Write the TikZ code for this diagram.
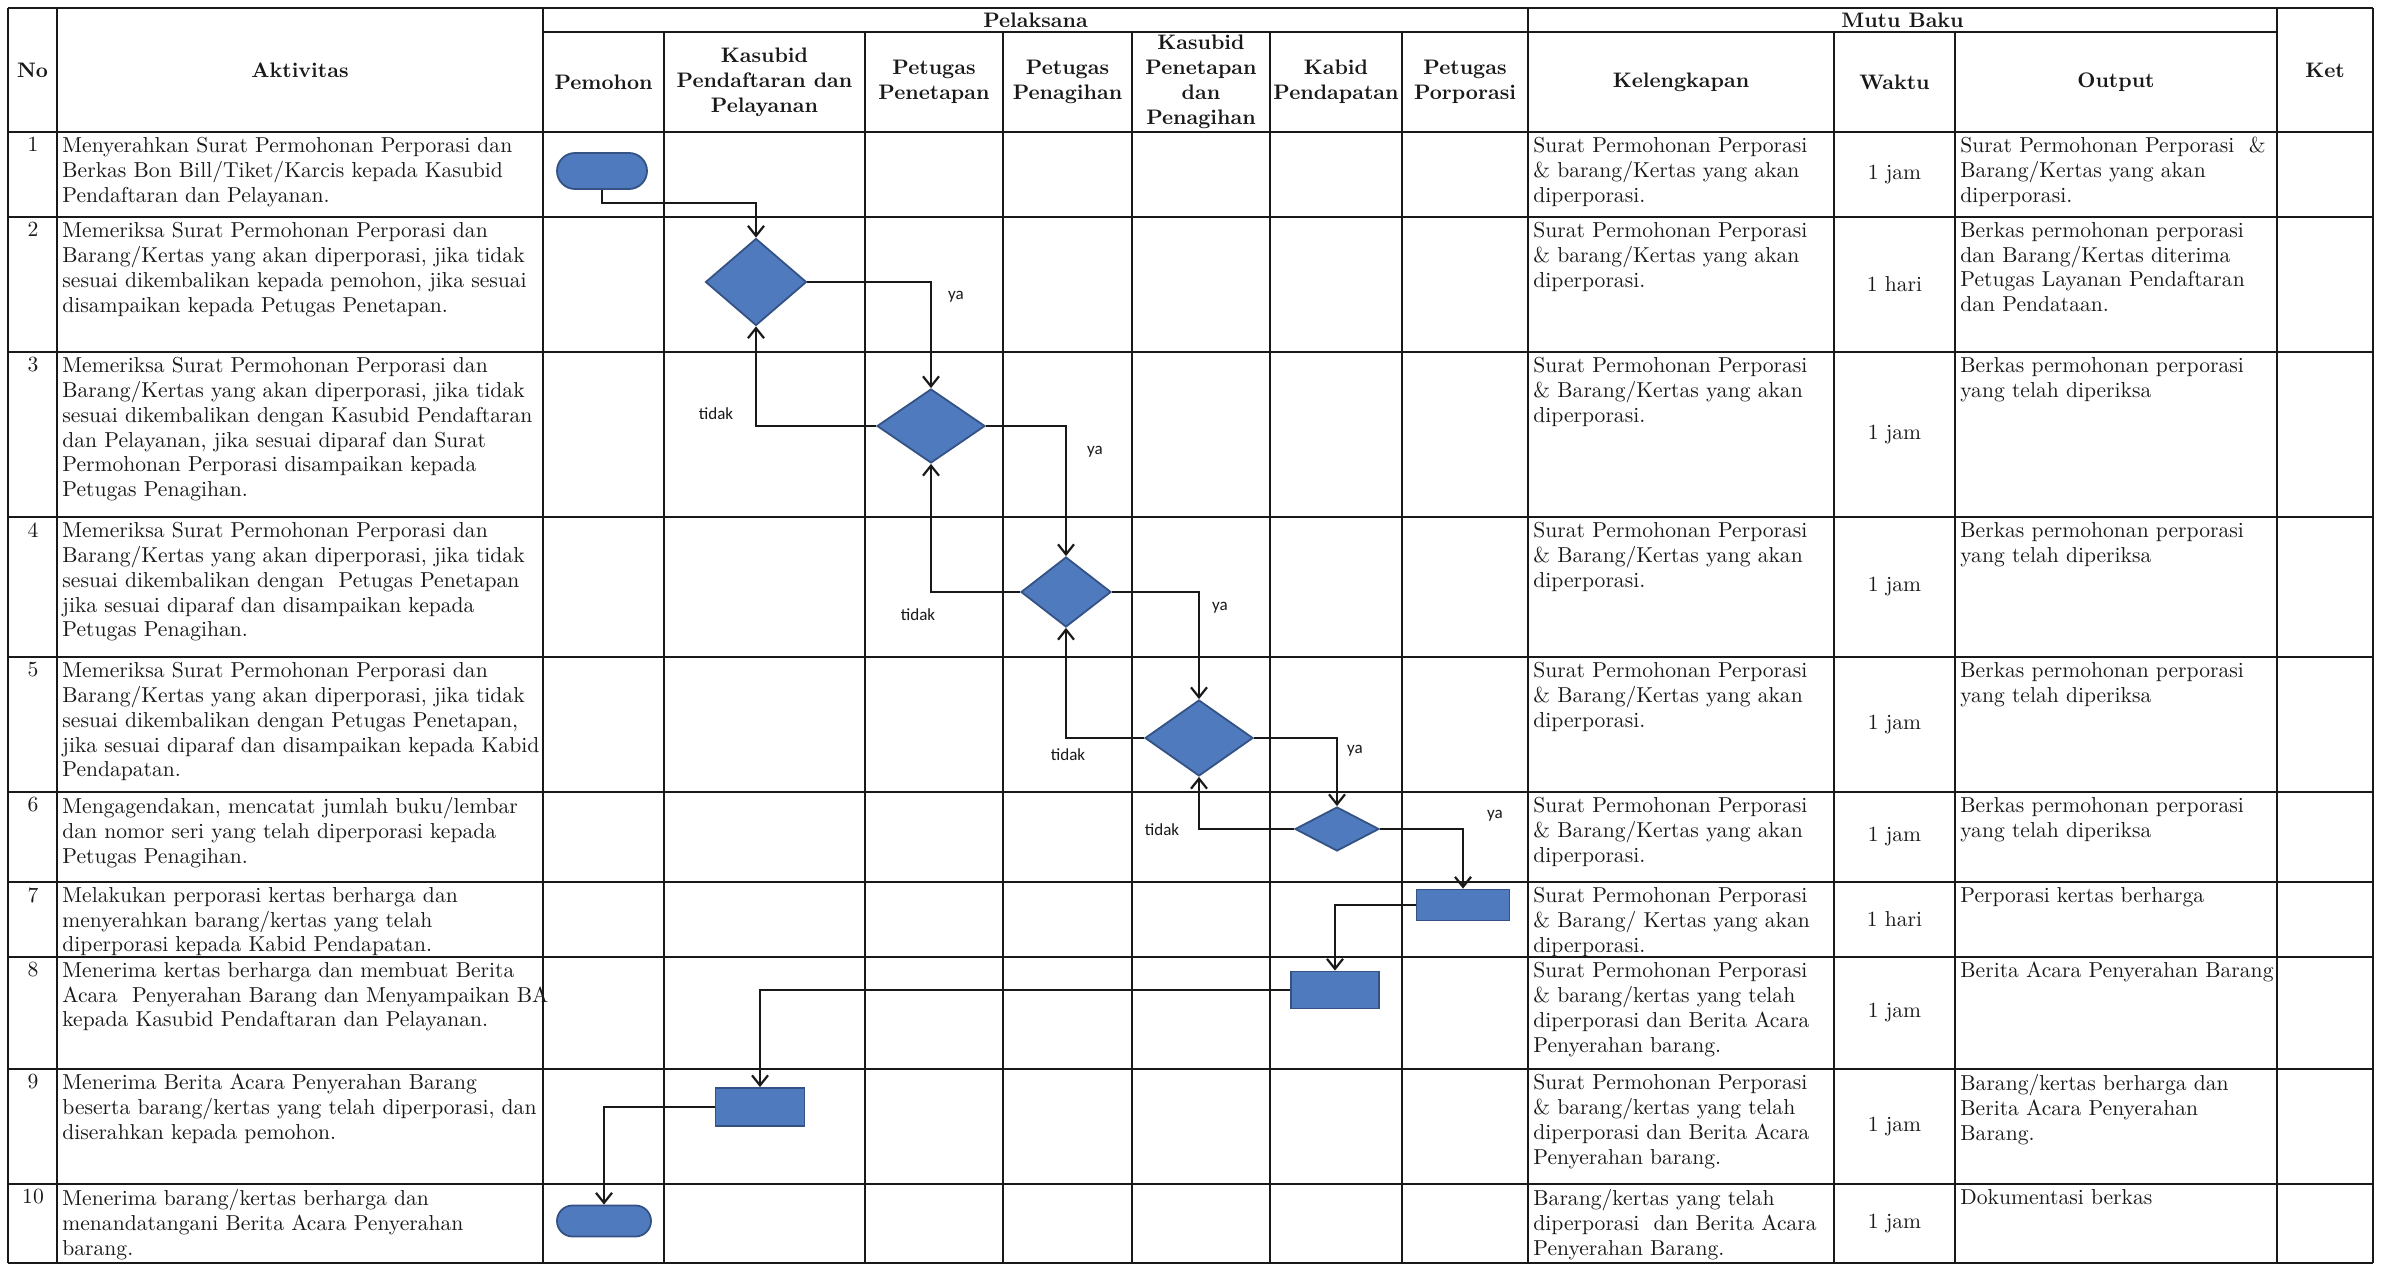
\documentclass[tikz,border=0pt]{standalone}
\usepackage{fontspec}
\newfontfamily\lblfont{Carlito}
\usetikzlibrary{arrows.meta,shapes.geometric,shapes.misc}
\definecolor{flowblue}{RGB}{79,123,190}
\definecolor{flowedge}{RGB}{52,82,132}
\definecolor{ink}{RGB}{25,25,25}
\tikzset{
  hrule/.style={line width=1.4pt, draw=ink},
  vrule/.style={line width=0.9pt, draw=ink},
  headtext/.style={font=\bfseries\fontsize{10.5}{12.5}\selectfont, align=center, inner sep=0pt, text=ink},
  celltext/.style={font=\fontsize{10.8}{12.4}\selectfont, align=left, anchor=north west, inner sep=0pt, text=ink},
  rownum/.style={font=\fontsize{10.8}{12.4}\selectfont, anchor=north, inner sep=0pt, text=ink},
  durtext/.style={font=\fontsize{10.8}{12.4}\selectfont, inner sep=0pt, text=ink},
  flowshape/.style={fill=flowblue, draw=flowedge, line width=0.9pt, inner sep=0pt},
  terminal/.style={flowshape, rounded rectangle, rounded rectangle arc length=180},
  decision/.style={flowshape, diamond},
  process/.style={flowshape, rectangle},
  flowlink/.style={line width=1.1pt, draw=ink, -{Straight Barb[length=5pt,width=8pt,line width=1.1pt]}},
  branchlbl/.style={font=\lblfont\fontsize{8.5}{10}\selectfont, inner sep=0pt, text=ink},
}
\begin{document}
\begin{tikzpicture}[x=0.5pt,y=-0.5pt]
\useasboundingbox[fill=white] (0,0) rectangle (2384,1268);

% ---------- table grid ----------
% horizontal rules
\draw[hrule] (8,8) -- (2373,8);
\draw[hrule] (543,32) -- (2277,32);
\foreach \yy in {132,217,352,517,657,792,882,957,1069,1184,1263}
  \draw[hrule] (8,\yy) -- (2373,\yy);
% full-height verticals
\foreach \xx in {8,57,543,1528,2277,2373}
  \draw[vrule] (\xx,8) -- (\xx,1263);
% verticals below the group headings
\foreach \xx in {664,865,1003,1132,1270,1402,1834,1955}
  \draw[vrule] (\xx,32) -- (\xx,1263);

% ---------- header ----------
\node[headtext] (hno)   at (32.5,70)  {No};
\node[headtext] (hakt)  at (300,70)   {Aktivitas};
\node[headtext] (hpel)  at (1035.5,20) {Pelaksana};
\node[headtext] (hmutu) at (1902.5,20) {Mutu Baku};
\node[headtext] (hket)  at (2325,70)  {Ket};
\node[headtext] (hpem)  at (603.5,82) {Pemohon};
\node[headtext] (hkpp)  at (764.5,82) {Kasubid\\Pendaftaran dan\\Pelayanan};
\node[headtext] (hpnt)  at (934,82)   {Petugas\\Penetapan};
\node[headtext] (hpng)  at (1067.5,82) {Petugas\\Penagihan};
\node[headtext] (hkpn)  at (1201,82)  {Kasubid\\Penetapan\\dan\\Penagihan};
\node[headtext] (hkab)  at (1336,82)  {Kabid\\Pendapatan};
\node[headtext] (hpor)  at (1465,82)  {Petugas\\Porporasi};
\node[headtext] (hkel)  at (1681,82)  {Kelengkapan};
\node[headtext] (hwak)  at (1894.5,82) {Waktu};
\node[headtext] (hout)  at (2116,82)  {Output};

% ---------- row numbers ----------
\foreach \n/\yy in {1/137,2/222,3/357,4/522,5/662,6/797,7/887,8/962,9/1074,10/1189}
  \node[rownum] (no\n) at (33,\yy) {\n};

% ---------- activities ----------
\node[celltext] (a1) at (62,137) {Menyerahkan Surat Permohonan Perporasi dan\\Berkas Bon Bill/Tiket/Karcis kepada Kasubid\\Pendaftaran dan Pelayanan.};
\node[celltext] (a2) at (62,222) {Memeriksa Surat Permohonan Perporasi dan\\Barang/Kertas yang akan diperporasi, jika tidak\\sesuai dikembalikan kepada pemohon, jika sesuai\\disampaikan kepada Petugas Penetapan.};
\node[celltext] (a3) at (62,357) {Memeriksa Surat Permohonan Perporasi dan\\Barang/Kertas yang akan diperporasi, jika tidak\\sesuai dikembalikan dengan Kasubid Pendaftaran\\dan Pelayanan, jika sesuai diparaf dan Surat\\Permohonan Perporasi disampaikan kepada\\Petugas Penagihan.};
\node[celltext] (a4) at (62,522) {Memeriksa Surat Permohonan Perporasi dan\\Barang/Kertas yang akan diperporasi, jika tidak\\sesuai dikembalikan dengan\ \ Petugas Penetapan\\jika sesuai diparaf dan disampaikan kepada\\Petugas Penagihan.};
\node[celltext] (a5) at (62,662) {Memeriksa Surat Permohonan Perporasi dan\\Barang/Kertas yang akan diperporasi, jika tidak\\sesuai dikembalikan dengan Petugas Penetapan,\\jika sesuai diparaf dan disampaikan kepada Kabid\\Pendapatan.};
\node[celltext] (a6) at (62,797) {Mengagendakan, mencatat jumlah buku/lembar\\dan nomor seri yang telah diperporasi kepada\\Petugas Penagihan.};
\node[celltext] (a7) at (62,887) {Melakukan perporasi kertas berharga dan\\menyerahkan barang/kertas yang telah\\diperporasi kepada Kabid Pendapatan.};
\node[celltext] (a8) at (62,962) {Menerima kertas berharga dan membuat Berita\\Acara\ \ Penyerahan Barang dan Menyampaikan BA\\kepada Kasubid Pendaftaran dan Pelayanan.};
\node[celltext] (a9) at (62,1074) {Menerima Berita Acara Penyerahan Barang\\beserta barang/kertas yang telah diperporasi, dan\\diserahkan kepada pemohon.};
\node[celltext] (a10) at (62,1189) {Menerima barang/kertas berharga dan\\menandatangani Berita Acara Penyerahan\\barang.};

% ---------- kelengkapan ----------
\node[celltext] (k1) at (1533,137) {Surat Permohonan Perporasi\\\& barang/Kertas yang akan\\diperporasi.};
\node[celltext] (k2) at (1533,222) {Surat Permohonan Perporasi\\\& barang/Kertas yang akan\\diperporasi.};
\node[celltext] (k3) at (1533,357) {Surat Permohonan Perporasi\\\& Barang/Kertas yang akan\\diperporasi.};
\node[celltext] (k4) at (1533,522) {Surat Permohonan Perporasi\\\& Barang/Kertas yang akan\\diperporasi.};
\node[celltext] (k5) at (1533,662) {Surat Permohonan Perporasi\\\& Barang/Kertas yang akan\\diperporasi.};
\node[celltext] (k6) at (1533,797) {Surat Permohonan Perporasi\\\& Barang/Kertas yang akan\\diperporasi.};
\node[celltext] (k7) at (1533,887) {Surat Permohonan Perporasi\\\& Barang/ Kertas yang akan\\diperporasi.};
\node[celltext] (k8) at (1533,962) {Surat Permohonan Perporasi\\\& barang/kertas yang telah\\diperporasi dan Berita Acara\\Penyerahan barang.};
\node[celltext] (k9) at (1533,1074) {Surat Permohonan Perporasi\\\& barang/kertas yang telah\\diperporasi dan Berita Acara\\Penyerahan barang.};
\node[celltext] (k10) at (1533,1189) {Barang/kertas yang telah\\diperporasi\ \ dan Berita Acara\\Penyerahan Barang.};

% ---------- waktu ----------
\foreach \n/\yy/\t in {1/174.5/1 jam,2/284.5/1 hari,3/434.5/1 jam,4/587/1 jam,5/724.5/1 jam,6/837/1 jam,7/919.5/1 hari,8/1013/1 jam,9/1126.5/1 jam,10/1223.5/1 jam}
  \node[durtext] (w\n) at (1894.5,\yy) {\t};

% ---------- output ----------
\node[celltext] (o1) at (1960,137) {Surat Permohonan Perporasi\ \ \&\\Barang/Kertas yang akan\\diperporasi.};
\node[celltext] (o2) at (1960,222) {Berkas permohonan perporasi\\dan Barang/Kertas diterima\\Petugas Layanan Pendaftaran\\dan Pendataan.};
\node[celltext] (o3) at (1960,357) {Berkas permohonan perporasi\\yang telah diperiksa};
\node[celltext] (o4) at (1960,522) {Berkas permohonan perporasi\\yang telah diperiksa};
\node[celltext] (o5) at (1960,662) {Berkas permohonan perporasi\\yang telah diperiksa};
\node[celltext] (o6) at (1960,797) {Berkas permohonan perporasi\\yang telah diperiksa};
\node[celltext] (o7) at (1960,887) {Perporasi kertas berharga};
\node[celltext] (o8) at (1960,962) {Berita Acara Penyerahan Barang};
\node[celltext] (o9) at (1960,1074) {Barang/kertas berharga dan\\Berita Acara Penyerahan\\Barang.};
\node[celltext] (o10) at (1960,1189) {Dokumentasi berkas};

% ---------- flow shapes ----------
\node[terminal, minimum width=45pt, minimum height=18pt] (t1) at (602,171) {};
\node[decision, minimum width=50.5pt, minimum height=43.5pt] (d1) at (756,282) {};
\node[decision, minimum width=54pt, minimum height=37pt] (d2) at (931,426) {};
\node[decision, minimum width=45pt, minimum height=35pt] (d3) at (1066,592) {};
\node[decision, minimum width=54pt, minimum height=38pt] (d4) at (1199,738) {};
\node[decision, minimum width=42pt, minimum height=22pt] (d5) at (1337,829) {};
\node[process, minimum width=46.5pt, minimum height=15.5pt] (r1) at (1463,905) {};
\node[process, minimum width=44pt, minimum height=18.5pt] (r2) at (1335,990) {};
\node[process, minimum width=44.5pt, minimum height=19pt] (r3) at (760,1107) {};
\node[terminal, minimum width=47pt, minimum height=15.5pt] (t2) at (604,1221) {};

% ---------- connectors ----------
\coordinate (bend1) at (756,203);
\draw[flowlink] (t1.south) |- (bend1) -- (d1.north);
\draw[flowlink] (d1.east) -| (d2.north);
\draw[flowlink] (d2.west) -| (d1.south);
\draw[flowlink] (d2.east) -| (d3.north);
\draw[flowlink] (d3.west) -| (d2.south);
\draw[flowlink] (d3.east) -| (d4.north);
\draw[flowlink] (d4.west) -| (d3.south);
\draw[flowlink] (d4.east) -| (d5.north);
\draw[flowlink] (d5.west) -| (d4.south);
\draw[flowlink] (d5.east) -| (r1.north);
\draw[flowlink] (r1.west) -| (r2.north);
\draw[flowlink] (r2.west) -| (r3.north);
\draw[flowlink] (r3.west) -| (t2.north);

% ---------- branch labels ----------
\node[branchlbl] (ya1) at (956,297) {ya};
\node[branchlbl] (tidak1) at (716,414) {tidak};
\node[branchlbl] (ya2) at (1095,452) {ya};
\node[branchlbl] (tidak2) at (918,615) {tidak};
\node[branchlbl] (ya3) at (1220,608) {ya};
\node[branchlbl] (tidak3) at (1068,755) {tidak};
\node[branchlbl] (ya4) at (1355,751) {ya};
\node[branchlbl] (tidak4) at (1162,830) {tidak};
\node[branchlbl] (ya5) at (1495,816) {ya};
\end{tikzpicture}
\end{document}
